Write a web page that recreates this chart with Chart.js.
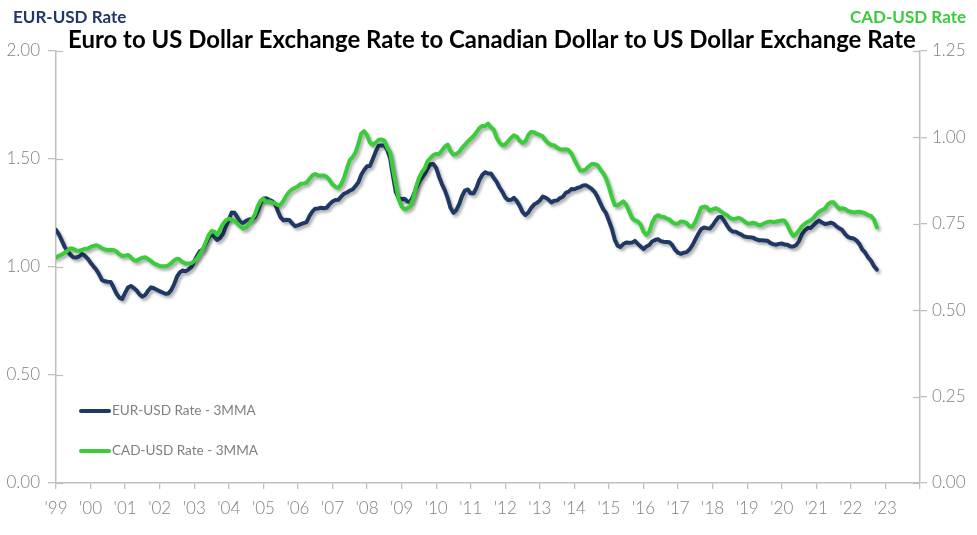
<!DOCTYPE html>
<html>
<head>
<meta charset="utf-8">
<script src="https://cdn.jsdelivr.net/npm/chart.js@4.4.1/dist/chart.umd.min.js"></script>
<style>
html,body{margin:0;padding:0;background:#fff;}
#wrap{width:977px;height:535px;position:relative;}
</style>
</head>
<body>
<div id="wrap"><canvas id="c" width="977" height="535"></canvas></div>
<script>
// ---- Data (monthly, Jan 1999 .. Oct 2022), 3-month moving averages ----
const startYear = 1999;
const xTickLabels = ["'99","'00","'01","'02","'03","'04","'05","'06","'07","'08","'09","'10","'11","'12","'13","'14","'15","'16","'17","'18","'19","'20","'21","'22","'23"];

const eurUsd3mma = [
 1.172,1.151,1.123,1.093,1.074,1.057,1.045,1.044,1.048,1.060,1.052,1.039, // 1999
 1.020,1.003,0.987,0.965,0.939,0.934,0.932,0.931,0.905,0.877,0.858,0.852, // 2000
 0.880,0.905,0.912,0.903,0.891,0.873,0.863,0.871,0.891,0.906,0.902,0.895, // 2001
 0.888,0.882,0.876,0.877,0.893,0.920,0.955,0.975,0.984,0.980,0.988,1.000, // 2002
 1.027,1.053,1.073,1.081,1.108,1.136,1.153,1.139,1.125,1.135,1.154,1.189, // 2003
 1.220,1.252,1.251,1.230,1.208,1.204,1.214,1.220,1.222,1.230,1.257,1.296, // 2004
 1.317,1.318,1.311,1.305,1.294,1.260,1.230,1.216,1.219,1.218,1.202,1.189, // 2005
 1.193,1.198,1.203,1.208,1.236,1.256,1.270,1.271,1.274,1.272,1.275,1.291, // 2006
 1.303,1.310,1.311,1.326,1.339,1.345,1.354,1.359,1.375,1.392,1.427,1.449, // 2007
 1.466,1.468,1.500,1.534,1.561,1.562,1.563,1.543,1.504,1.422,1.347,1.317, // 2008
 1.314,1.316,1.303,1.301,1.330,1.362,1.392,1.412,1.431,1.455,1.476,1.477, // 2009
 1.459,1.418,1.384,1.356,1.319,1.273,1.251,1.263,1.291,1.329,1.354,1.359, // 2010
 1.341,1.341,1.367,1.403,1.426,1.439,1.433,1.433,1.413,1.394,1.368,1.348, // 2011
 1.322,1.310,1.311,1.320,1.305,1.283,1.254,1.241,1.252,1.274,1.289,1.297, // 2012
 1.308,1.326,1.321,1.312,1.299,1.307,1.308,1.319,1.325,1.343,1.349,1.361, // 2013
 1.360,1.366,1.370,1.377,1.379,1.371,1.362,1.348,1.325,1.296,1.268,1.249, // 2014
 1.214,1.177,1.127,1.099,1.093,1.106,1.113,1.112,1.113,1.121,1.107,1.095, // 2015
 1.083,1.095,1.102,1.118,1.125,1.129,1.120,1.117,1.116,1.115,1.101,1.079, // 2016
 1.066,1.061,1.066,1.069,1.082,1.101,1.128,1.153,1.175,1.183,1.180,1.178, // 2017
 1.193,1.213,1.230,1.232,1.214,1.192,1.173,1.164,1.163,1.156,1.150,1.141, // 2018
 1.139,1.138,1.136,1.129,1.124,1.124,1.123,1.122,1.112,1.106,1.103,1.107, // 2019
 1.109,1.104,1.103,1.095,1.095,1.101,1.120,1.151,1.169,1.180,1.180,1.193, // 2020
 1.206,1.215,1.206,1.199,1.201,1.206,1.201,1.188,1.179,1.171,1.152,1.139, // 2021
 1.134,1.132,1.122,1.106,1.080,1.066,1.044,1.029,1.005,0.988              // 2022
];

const cadUsd3mma = [
 0.652,0.658,0.661,0.666,0.672,0.679,0.678,0.673,0.672,0.674,0.678,0.678, // 1999
 0.683,0.686,0.688,0.685,0.679,0.676,0.674,0.675,0.674,0.670,0.662,0.657, // 2000
 0.658,0.660,0.653,0.645,0.643,0.648,0.652,0.653,0.648,0.642,0.635,0.632, // 2001
 0.628,0.627,0.627,0.630,0.636,0.644,0.649,0.646,0.639,0.635,0.635,0.636, // 2002
 0.642,0.650,0.663,0.676,0.697,0.717,0.729,0.727,0.718,0.735,0.750,0.760, // 2003
 0.765,0.762,0.759,0.751,0.743,0.736,0.739,0.749,0.762,0.776,0.800,0.816, // 2004
 0.822,0.814,0.815,0.812,0.809,0.804,0.806,0.817,0.832,0.843,0.850,0.854, // 2005
 0.859,0.866,0.867,0.869,0.880,0.890,0.894,0.890,0.890,0.890,0.886,0.876, // 2006
 0.864,0.857,0.854,0.864,0.883,0.910,0.934,0.943,0.957,0.982,1.012,1.018, // 2007
 1.006,0.985,0.978,0.985,0.993,0.994,0.991,0.971,0.957,0.908,0.864,0.821, // 2008
 0.800,0.792,0.795,0.800,0.823,0.856,0.882,0.899,0.910,0.931,0.940,0.949, // 2009
 0.952,0.952,0.962,0.973,0.979,0.960,0.950,0.952,0.958,0.970,0.979,0.988, // 2010
 0.996,1.004,1.015,1.027,1.033,1.033,1.040,1.029,1.022,0.999,0.985,0.977, // 2011
 0.980,0.989,0.999,1.006,1.002,0.990,0.984,0.989,1.007,1.016,1.015,1.010, // 2012
 1.007,1.003,0.991,0.983,0.978,0.977,0.970,0.966,0.965,0.966,0.963,0.953, // 2013
 0.935,0.919,0.904,0.904,0.908,0.916,0.923,0.923,0.920,0.907,0.896,0.881, // 2014
 0.856,0.828,0.804,0.803,0.809,0.815,0.805,0.786,0.767,0.760,0.757,0.748, // 2015
 0.727,0.718,0.727,0.753,0.769,0.775,0.771,0.770,0.766,0.763,0.754,0.750, // 2016
 0.751,0.757,0.756,0.752,0.742,0.742,0.756,0.776,0.797,0.800,0.798,0.788, // 2017
 0.792,0.795,0.792,0.785,0.779,0.775,0.767,0.763,0.765,0.767,0.764,0.757, // 2018
 0.751,0.751,0.753,0.751,0.746,0.747,0.752,0.755,0.757,0.755,0.756,0.758, // 2019
 0.760,0.759,0.745,0.727,0.715,0.721,0.731,0.743,0.750,0.756,0.760,0.767, // 2020
 0.777,0.785,0.790,0.794,0.806,0.812,0.812,0.802,0.793,0.795,0.793,0.787, // 2021
 0.785,0.783,0.784,0.785,0.783,0.780,0.775,0.773,0.762,0.740              // 2022
];

const seriesNames = ['EUR-USD Rate - 3MMA', 'CAD-USD Rate - 3MMA'];
const chartTitle = 'Euro to US Dollar Exchange Rate to Canadian Dollar to US Dollar Exchange Rate';
const leftAxisTitle = 'EUR-USD Rate';
const rightAxisTitle = 'CAD-USD Rate';

// ---- Styles ----
const NAVY = '#1F3864';
const GREEN = '#3ACC3A';
const AXIS = '#BFBFBF';
const TXT = '#7F7F7F';
const FONT = 'Lato, "Open Sans", sans-serif';

const toPoints = arr => arr.map((v, i) => ({ x: i, y: v }));

const decor = {
  id: 'decor',
  beforeDatasetsDraw(chart) {
    const c = chart.ctx;
    c.save();
    c.shadowColor = 'rgba(0,0,0,0.32)';
    c.shadowBlur = 3;
    c.shadowOffsetX = 2;
    c.shadowOffsetY = 2.5;
  },
  afterDatasetsDraw(chart) { chart.ctx.restore(); },
  afterDraw(chart) {
    const c = chart.ctx;
    const a = chart.chartArea;
    const ys = chart.scales.y, yr = chart.scales.y1;
    c.save();
    // inward half of the crossing tick marks
    c.strokeStyle = AXIS; c.lineWidth = 1.3;
    ys.ticks.forEach(t => {
      const p = Math.round(ys.getPixelForValue(t.value)) + 0.5;
      c.beginPath(); c.moveTo(a.left, p); c.lineTo(a.left + 7, p); c.stroke();
    });
    yr.ticks.forEach(t => {
      const p = Math.round(yr.getPixelForValue(t.value)) + 0.5;
      c.beginPath(); c.moveTo(a.right - 7, p); c.lineTo(a.right, p); c.stroke();
    });
    // axis titles
    c.textBaseline = 'middle';
    c.font = 'bold 17px ' + FONT;
    c.fillStyle = NAVY; c.textAlign = 'left';
    c.fillText(leftAxisTitle, 13, 18);
    c.fillStyle = GREEN; c.textAlign = 'right';
    c.fillText(rightAxisTitle, 966, 18);
    // main title, fitted to the reference width
    let fs = 23;
    c.font = 'bold ' + fs + 'px ' + FONT;
    const w = c.measureText(chartTitle).width;
    fs = fs * 848 / w;
    c.font = 'bold ' + fs.toFixed(2) + 'px ' + FONT;
    c.fillStyle = '#000'; c.textAlign = 'center';
    c.fillText(chartTitle, 492, 40);
    // legend inside plot
    const legend = [[NAVY, 411], [GREEN, 451]];
    c.font = '14px ' + FONT;
    const lw = c.measureText(seriesNames[1]).width;
    c.font = (14 * 146 / lw).toFixed(2) + 'px ' + FONT;
    c.textAlign = 'left';
    legend.forEach(([col, y], i) => {
      c.strokeStyle = col; c.lineWidth = 4; c.lineCap = 'round';
      c.beginPath(); c.moveTo(81, y); c.lineTo(109, y); c.stroke();
      c.fillStyle = TXT;
      c.fillText(seriesNames[i], 112, y);
    });
    c.restore();
  }
};

const tickFont = { family: FONT, size: 17, weight: '300' };

new Chart(document.getElementById('c'), {
  type: 'line',
  data: {
    datasets: [
      { label: seriesNames[0], data: toPoints(eurUsd3mma), yAxisID: 'y', borderColor: NAVY,
        borderWidth: 4, pointRadius: 0, tension: 0, borderJoinStyle: 'round', borderCapStyle: 'round', order: 1 },
      { label: seriesNames[1], data: toPoints(cadUsd3mma), yAxisID: 'y1', borderColor: GREEN,
        borderWidth: 4, pointRadius: 0, tension: 0, borderJoinStyle: 'round', borderCapStyle: 'round', order: 0 }
    ]
  },
  options: {
    responsive: false,
    animation: false,
    devicePixelRatio: 1,
    layout: { padding: { top: 51, left: 0, right: 0, bottom: 0 } },
    plugins: { legend: { display: false }, tooltip: { enabled: false }, title: { display: false } },
    scales: {
      x: {
        type: 'linear', min: 0, max: 300,
        afterFit: s => { s.height = 52; },
        afterBuildTicks: s => { s.ticks = []; for (let v = 0; v <= 300; v += 12) s.ticks.push({ value: v }); },
        ticks: {
          autoSkip: false, maxRotation: 0, padding: 9, color: TXT,
          font: tickFont,
          callback: v => (v % 12 === 0 && xTickLabels[v / 12] !== undefined) ? xTickLabels[v / 12] : ''
        },
        grid: { drawOnChartArea: false, drawTicks: true, tickLength: 6, color: AXIS, lineWidth: 1.3 },
        border: { display: true, color: AXIS, width: 1.5 }
      },
      y: {
        position: 'left', min: 0, max: 2,
        afterFit: s => { s.width = 56; },
        ticks: { stepSize: 0.5, padding: 8, color: TXT, font: tickFont,
                 callback: v => Number(v).toFixed(2) },
        grid: { drawOnChartArea: false, drawTicks: true, tickLength: 8, color: AXIS, lineWidth: 1.3 },
        border: { display: true, color: AXIS, width: 1.5 }
      },
      y1: {
        position: 'right', min: 0, max: 1.25,
        afterFit: s => { s.width = 57; },
        ticks: { stepSize: 0.25, padding: 5, color: TXT, font: tickFont,
                 callback: v => Number(v).toFixed(2) },
        grid: { drawOnChartArea: false, drawTicks: true, tickLength: 7, color: AXIS, lineWidth: 1.3 },
        border: { display: true, color: AXIS, width: 1.5 }
      }
    }
  },
  plugins: [decor]
});
</script>
</body>
</html>
